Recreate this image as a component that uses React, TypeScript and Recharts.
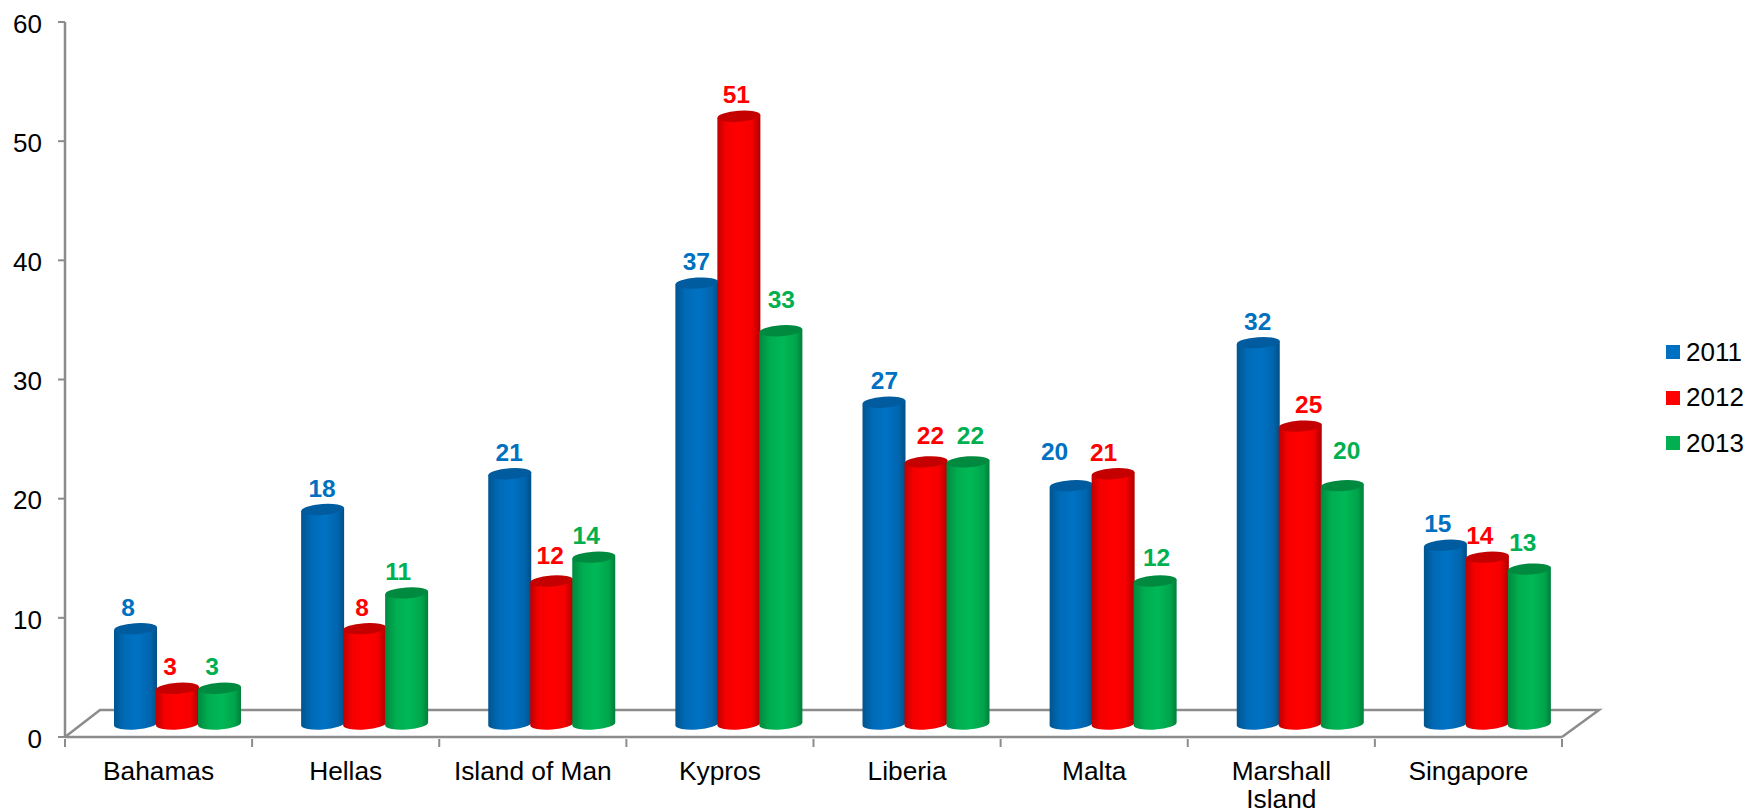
import React from "react";
import { BarChart, Bar, XAxis, YAxis, ReferenceLine, Legend, LabelList } from "recharts";

const categories = ["Bahamas", "Hellas", "Island of Man", "Kypros", "Liberia", "Malta", "Marshall Island", "Singapore"];
const values2011 = [8, 18, 21, 37, 27, 20, 32, 15];
const values2012 = [3, 8, 12, 51, 22, 21, 25, 14];
const values2013 = [3, 11, 14, 33, 22, 12, 20, 13];
const yTicks = [0, 10, 20, 30, 40, 50, 60];

const data = categories.map((name, i) => ({
  name,
  y2011: values2011[i],
  y2012: values2012[i],
  y2013: values2013[i],
}));

const FONT = '"Liberation Sans", Arial, sans-serif';
const AXIS = "#8c8c8c";
const BLUE = "#0070C0";
const RED = "#FF0000";
const GREEN = "#00B050";

// the 3D look: bars stand in the middle of the floor, offset from the axis origin
const DX = 18;
const DY = -13;
const RY = 5.5;
const TILT = 1.5;

const looks: Record<string, { grad: string; top: string }> = {
  [BLUE]: { grad: "gBlue", top: "#005C9E" },
  [RED]: { grad: "gRed", top: "#C40000" },
  [GREEN]: { grad: "gGreen", top: "#008A40" },
};

function Cylinder(props: any) {
  const { x, y, width, height, fill } = props;
  const w = width + 1;
  const left = x + DX;
  const right = left + w;
  const yT = y + DY;
  const yB = y + height + DY;
  const look = looks[fill];
  const angle = (Math.atan2(-2 * TILT, w) * 180) / Math.PI;
  return (
    <g>
      <path
        d={`M${left} ${yT + TILT} L${left} ${yB + TILT} A${w / 2} ${RY} ${angle} 0 0 ${right} ${yB - TILT} L${right} ${yT - TILT} Z`}
        fill={`url(#${look.grad})`}
      />
      <ellipse
        cx={left + w / 2}
        cy={yT}
        rx={w / 2}
        ry={RY}
        fill={look.top}
        transform={`rotate(${angle} ${left + w / 2} ${yT})`}
      />
    </g>
  );
}

const makeLabel = (color: string, nudgeX: number[], nudgeY: number[]) => (props: any) => {
  const { x, y, width, value, index } = props;
  return (
    <text
      x={x + DX + width / 2 + nudgeX[index]}
      y={y + DY - 13 + nudgeY[index]}
      textAnchor="middle"
      fill={color}
      fontFamily={FONT}
      fontWeight="bold"
      fontSize={24.5}
    >
      {value}
    </text>
  );
};

const nudgeX2011 = [-7, 0, 0, 0, 1, -16, 0, -7];
const nudgeX2012 = [-7, -2, -1, -2, 5, -9, 9, -7];
const nudgeX2013 = [-7, -8, -7, 1, 3, 2, 5, -6];
const nudgeY2011 = [0, 0, 0, 0, 0, -13, 0, 0];
const nudgeY2012 = [0, 0, -4, 0, -5, 0, 0, 0];
const nudgeY2013 = [0, 0, 0, -10, -5, -2, -14, -5];

function Floor(props: any) {
  const { x1, x2, y1 } = props;
  const d = `M${x1} ${y1} L${x1 + 35} ${y1 - 27} L${x2 + 37} ${y1 - 27} L${x2} ${y1}`;
  return <path d={d} fill="none" stroke={AXIS} strokeWidth={2.5} />;
}

function CategoryTick(props: any) {
  const { x, y, payload, width, visibleTicksCount, index } = props;
  const name = String(payload.value);
  const lines = name.length > 13 ? name.split(" ") : [name];
  const step = width / visibleTicksCount;
  const axisY = y - 6;
  const edges = [x - step / 2];
  if (index === visibleTicksCount - 1) edges.push(x + step / 2);
  return (
    <g>
      {edges.map((ex) => (
        <line key={ex} x1={ex} x2={ex} y1={axisY} y2={axisY + 8} stroke={AXIS} strokeWidth={2} />
      ))}
      <text x={x} y={y + 35} textAnchor="middle" fill="#000" fontFamily={FONT} fontSize={26.3}>
        {lines.map((line, i) => (
          <tspan key={line} x={x} dy={i === 0 ? 0 : 27.5}>
            {line}
          </tspan>
        ))}
      </text>
    </g>
  );
}

function LegendBox() {
  const items = [
    { label: "2011", color: BLUE },
    { label: "2012", color: RED },
    { label: "2013", color: GREEN },
  ];
  return (
    <div style={{ fontFamily: FONT, fontSize: 26, color: "#000" }}>
      {items.map((it) => (
        <div key={it.label} style={{ display: "flex", alignItems: "center", height: 45.5 }}>
          <span style={{ width: 14, height: 14, background: it.color, marginRight: 6, display: "inline-block" }} />
          <span>{it.label}</span>
        </div>
      ))}
    </div>
  );
}

export default function App() {
  return (
    <div style={{ position: "absolute", left: 0, top: 0, width: 1748, height: 812, overflow: "hidden", background: "#fff" }}>
      <BarChart
        width={1748}
        height={812}
        data={data}
        margin={{ top: 22, right: 104, bottom: 0, left: 0 }}
        barSize={42}
        barGap={0}
      >
        <defs>
          <linearGradient id="gBlue" x1="0" x2="1" y1="0" y2="0">
            <stop offset="0" stopColor="#00558F" />
            <stop offset="0.25" stopColor="#006BB8" />
            <stop offset="0.55" stopColor="#0072C4" />
            <stop offset="0.85" stopColor="#0065AD" />
            <stop offset="1" stopColor="#004F85" />
          </linearGradient>
          <linearGradient id="gRed" x1="0" x2="1" y1="0" y2="0">
            <stop offset="0" stopColor="#BF0000" />
            <stop offset="0.2" stopColor="#F50000" />
            <stop offset="0.5" stopColor="#FF0000" />
            <stop offset="0.8" stopColor="#F50000" />
            <stop offset="1" stopColor="#B00000" />
          </linearGradient>
          <linearGradient id="gGreen" x1="0" x2="1" y1="0" y2="0">
            <stop offset="0" stopColor="#008A40" />
            <stop offset="0.25" stopColor="#00AE50" />
            <stop offset="0.55" stopColor="#00B856" />
            <stop offset="0.85" stopColor="#00A54B" />
            <stop offset="1" stopColor="#007F3B" />
          </linearGradient>
        </defs>
        <ReferenceLine y={0} shape={Floor} zIndex={-50} />
        <XAxis
          dataKey="name"
          interval={0}
          height={75}
          tick={CategoryTick}
          tickLine={false}
          axisLine={{ stroke: AXIS, strokeWidth: 2.5 }}
        />
        <YAxis
          domain={[0, 60]}
          ticks={yTicks}
          width={65}
          tickSize={7}
          tickMargin={16}
          axisLine={{ stroke: AXIS, strokeWidth: 2.5 }}
          tickLine={{ stroke: AXIS, strokeWidth: 2 }}
          tick={{ fill: "#000", fontFamily: FONT, fontSize: 26, dy: 1.5 }}
        />
        <Bar dataKey="y2011" name="2011" fill={BLUE} shape={Cylinder} isAnimationActive={false}>
          <LabelList dataKey="y2011" content={makeLabel(BLUE, nudgeX2011, nudgeY2011)} />
        </Bar>
        <Bar dataKey="y2012" name="2012" fill={RED} shape={Cylinder} isAnimationActive={false}>
          <LabelList dataKey="y2012" content={makeLabel(RED, nudgeX2012, nudgeY2012)} />
        </Bar>
        <Bar dataKey="y2013" name="2013" fill={GREEN} shape={Cylinder} isAnimationActive={false}>
          <LabelList dataKey="y2013" content={makeLabel(GREEN, nudgeX2013, nudgeY2013)} />
        </Bar>
        <Legend
          layout="vertical"
          align="right"
          verticalAlign="middle"
          width={82}
          content={LegendBox}
          wrapperStyle={{ position: "absolute", left: 1666, right: "auto", top: 329.5 }}
        />
      </BarChart>
    </div>
  );
}
